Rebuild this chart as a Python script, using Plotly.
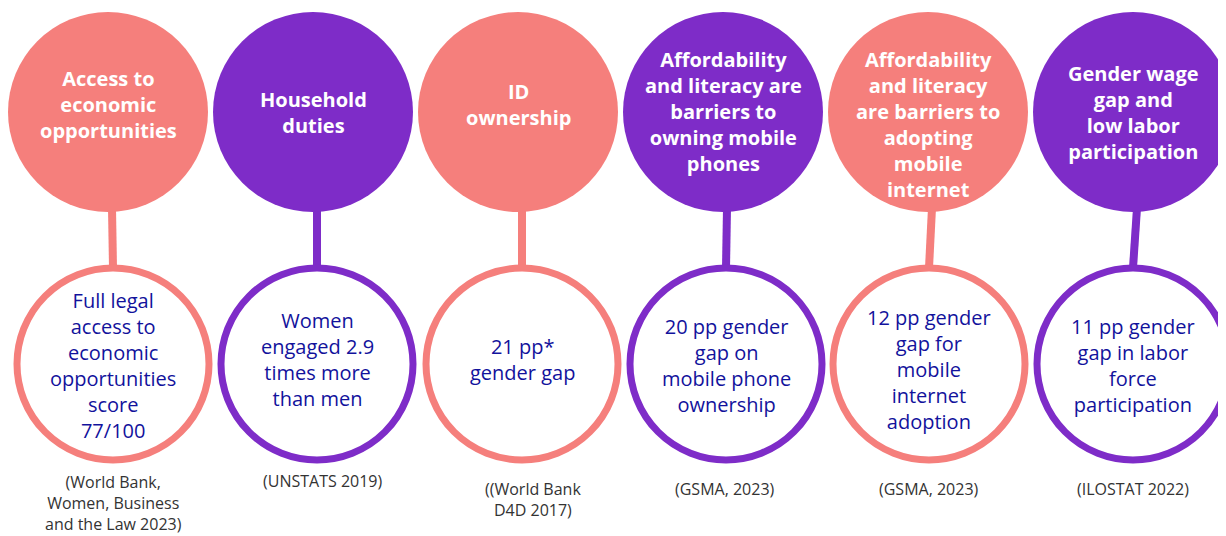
import plotly.graph_objects as go

# ── Data ───────────────────────────────────────────────────────────────────────
topics = [
    "Access to<br>economic<br>opportunities",
    "Household<br>duties",
    "ID<br>ownership",
    "Affordability<br>and literacy are<br>barriers to<br>owning mobile<br>phones",
    "Affordability<br>and literacy<br>are barriers to<br>adopting<br>mobile<br>internet",
    "Gender wage<br>gap and<br>low labor<br>participation",
]
stats = [
    "Full legal<br>access to<br>economic<br>opportunities<br>score<br>77/100",
    "Women<br>engaged 2.9<br>times more<br>than men",
    "21 pp*<br>gender gap",
    "20 pp gender<br>gap on<br>mobile phone<br>ownership",
    "12 pp gender<br>gap for<br>mobile<br>internet<br>adoption",
    "11 pp gender<br>gap in labor<br>force<br>participation",
]
sources = [
    "(World Bank,<br>Women, Business<br>and the Law 2023)",
    "(UNSTATS 2019)",
    "((World Bank<br>D4D 2017)",
    "(GSMA, 2023)",
    "(GSMA, 2023)",
    "(ILOSTAT 2022)",
]
palette = ["coral", "purple", "coral", "purple", "coral", "purple"]

# ── Layout constants ───────────────────────────────────────────────────────────
W, H = 1226, 536
PAD = 8  # default body margin of the html page
_COLORS = {"coral": "#F57F7C", "purple": "#7E2CC8"}
_NAVY = "#12129C"
_GREY = "#333333"

TOP_X = [108, 313, 518, 723, 928, 1133]
BOT_X = [113, 317, 522, 726, 929, 1133]
TOP_Y, TOP_R = 112, 100
BOT_Y, BOT_R = 364, 96
TOPIC_Y = [104, 112, 104, 111, 124, 112]
STAT_Y = [365, 359, 359, 365, 369, 365]
SRC_Y = [503, 481, 499, 489, 489, 489]
SRC_X = [113, 322, 533, 725, 929, 1133]

fig = go.Figure()
shapes, annotations = [], []

for i, topic in enumerate(topics):
    col = _COLORS[palette[i]]
    # connector
    shapes.append(dict(type="line", x0=TOP_X[i] + 4, x1=BOT_X[i], y0=TOP_Y + TOP_R - 4,
                       y1=BOT_Y - BOT_R, line=dict(color=col, width=8), layer="below"))
    # top filled circle
    shapes.append(dict(type="circle", x0=TOP_X[i] - TOP_R, x1=TOP_X[i] + TOP_R,
                       y0=TOP_Y - TOP_R, y1=TOP_Y + TOP_R,
                       fillcolor=col, line=dict(width=0)))
    # bottom outlined circle
    shapes.append(dict(type="circle", x0=BOT_X[i] - BOT_R, x1=BOT_X[i] + BOT_R,
                       y0=BOT_Y - BOT_R, y1=BOT_Y + BOT_R,
                       fillcolor="white", line=dict(color=col, width=7)))

    annotations.append(dict(x=TOP_X[i], y=TOPIC_Y[i], text=f"<b>{topic}</b>",
                            showarrow=False, xanchor="center", yanchor="middle",
                            font=dict(family="Open Sans", size=20, color="white")))
    annotations.append(dict(x=BOT_X[i], y=STAT_Y[i], text=stats[i],
                            showarrow=False, xanchor="center", yanchor="middle",
                            font=dict(family="Open Sans", size=20, color=_NAVY)))
    annotations.append(dict(x=SRC_X[i], y=SRC_Y[i], text=sources[i],
                            showarrow=False, xanchor="center", yanchor="middle",
                            font=dict(family="Open Sans", size=16, color=_GREY)))

fig.update_layout(
    width=W - PAD, height=H - PAD,
    margin=dict(l=0, r=0, t=0, b=0),
    paper_bgcolor="white", plot_bgcolor="white",
    xaxis=dict(range=[PAD, W], visible=False, fixedrange=True),
    yaxis=dict(range=[H, PAD], visible=False, fixedrange=True),
    shapes=shapes, annotations=annotations,
    showlegend=False,
)

fig.write_html("out.html")
